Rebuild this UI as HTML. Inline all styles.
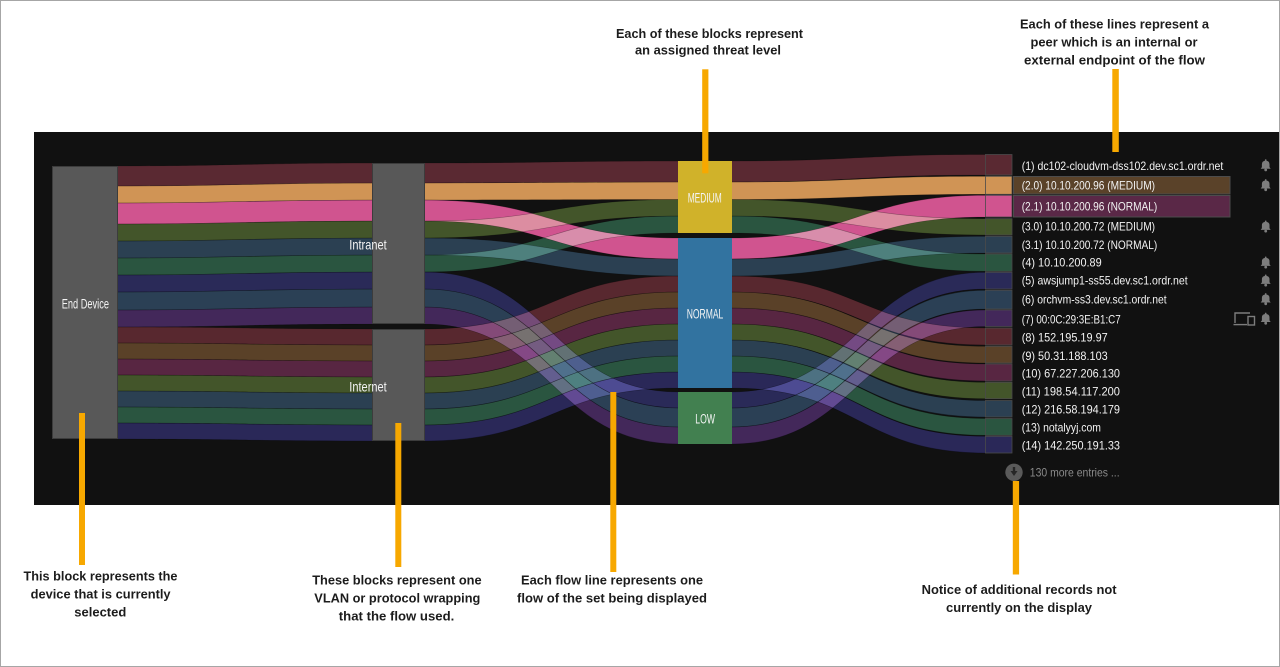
<!DOCTYPE html>
<html><head><meta charset="utf-8"><style>
html,body{margin:0;padding:0;background:#fff;}
svg{display:block;}
.ann{font-family:"Liberation Sans",sans-serif;font-weight:bold;font-size:13px;fill:#1c1c1c;}
.nl{font-family:"Liberation Sans",sans-serif;fill:#f4f4f4;}
.row{font-family:"Liberation Sans",sans-serif;font-size:12px;fill:#f2f2f2;}
.b use{mix-blend-mode:screen;}
</style></head><body>
<svg width="1280" height="667" viewBox="0 0 1280 667" xmlns="http://www.w3.org/2000/svg" xmlns:xlink="http://www.w3.org/1999/xlink">
<defs>
<!-- S1 -->
<path id="a1" d="M117 166C245 166 245 163 373 163L373 183C245 183 245 186 117 186Z"/>
<path id="a2" d="M117 186C245 186 245 183 373 183L373 200C245 200 245 203 117 203Z"/>
<path id="a3" d="M117 203C245 203 245 200 373 200L373 221C245 221 245 224 117 224Z"/>
<path id="a4" d="M117 224C245 224 245 221 373 221L373 238C245 238 245 241 117 241Z"/>
<path id="a5" d="M117 241C245 241 245 238 373 238L373 255C245 255 245 258 117 258Z"/>
<path id="a6" d="M117 258C245 258 245 255 373 255L373 272C245 272 245 275 117 275Z"/>
<path id="a7" d="M117 275C245 275 245 272 373 272L373 289C245 289 245 292 117 292Z"/>
<path id="a8" d="M117 292C245 292 245 289 373 289L373 307C245 307 245 310 117 310Z"/>
<path id="a9" d="M117 310C245 310 245 307 373 307L373 324C245 324 245 327 117 327Z"/>
<path id="a10" d="M117 327C245 327 245 329 373 329L373 345C245 345 245 343 117 343Z"/>
<path id="a11" d="M117 343C245 343 245 345 373 345L373 361C245 361 245 359 117 359Z"/>
<path id="a12" d="M117 359C245 359 245 361 373 361L373 377C245 377 245 375 117 375Z"/>
<path id="a13" d="M117 375C245 375 245 377 373 377L373 393C245 393 245 391 117 391Z"/>
<path id="a14" d="M117 391C245 391 245 393 373 393L373 409C245 409 245 407 117 407Z"/>
<path id="a15" d="M117 407C245 407 245 409 373 409L373 425C245 425 245 423 117 423Z"/>
<path id="a16" d="M117 423C245 423 245 425 373 425L373 441C245 441 245 439 117 439Z"/>
<!-- S2 -->
<path id="c1" d="M424 163C551.5 163 551.5 161 679 161L679 182C551.5 182 551.5 183 424 183Z"/>
<path id="c2" d="M424 183C551.5 183 551.5 182 679 182L679 199.5C551.5 199.5 551.5 200 424 200Z"/>
<path id="c3" d="M424 200C551.5 200 551.5 238 679 238L679 259C551.5 259 551.5 221 424 221Z"/>
<path id="c4" d="M424 221C551.5 221 551.5 199.5 679 199.5L679 216C551.5 216 551.5 238 424 238Z"/>
<path id="c5" d="M424 238C551.5 238 551.5 259 679 259L679 276C551.5 276 551.5 255 424 255Z"/>
<path id="c6" d="M424 255C551.5 255 551.5 216 679 216L679 233C551.5 233 551.5 272 424 272Z"/>
<path id="c7" d="M424 272C551.5 272 551.5 392 679 392L679 408C551.5 408 551.5 289 424 289Z"/>
<path id="c8" d="M424 289C551.5 289 551.5 408 679 408L679 427C551.5 427 551.5 307 424 307Z"/>
<path id="c9" d="M424 307C551.5 307 551.5 427 679 427L679 444C551.5 444 551.5 324 424 324Z"/>
<path id="c10" d="M424 329C551.5 329 551.5 276 679 276L679 292C551.5 292 551.5 345 424 345Z"/>
<path id="c11" d="M424 345C551.5 345 551.5 292 679 292L679 308C551.5 308 551.5 361 424 361Z"/>
<path id="c12" d="M424 361C551.5 361 551.5 308 679 308L679 324C551.5 324 551.5 377 424 377Z"/>
<path id="c13" d="M424 377C551.5 377 551.5 324 679 324L679 340C551.5 340 551.5 393 424 393Z"/>
<path id="c14" d="M424 393C551.5 393 551.5 340 679 340L679 356C551.5 356 551.5 409 424 409Z"/>
<path id="c15" d="M424 409C551.5 409 551.5 356 679 356L679 372C551.5 372 551.5 425 424 425Z"/>
<path id="c16" d="M424 425C551.5 425 551.5 372 679 372L679 388C551.5 388 551.5 441 424 441Z"/>
<!-- S3 -->
<path id="e1" d="M731 161C858.5 161 858.5 154.5 986 154.5L986 175C858.5 175 858.5 182 731 182Z"/>
<path id="e2" d="M731 182C858.5 182 858.5 176.3 986 176.3L986 194.3C858.5 194.3 858.5 199.5 731 199.5Z"/>
<path id="e4" d="M731 199.5C858.5 199.5 858.5 218.7 986 218.7L986 235C858.5 235 858.5 216 731 216Z"/>
<path id="e6" d="M731 216C858.5 216 858.5 254 986 254L986 271.3C858.5 271.3 858.5 233 731 233Z"/>
<path id="e3" d="M731 238C858.5 238 858.5 195.3 986 195.3L986 217C858.5 217 858.5 259 731 259Z"/>
<path id="e5" d="M731 259C858.5 259 858.5 236.3 986 236.3L986 253C858.5 253 858.5 276 731 276Z"/>
<path id="e10" d="M731 276C858.5 276 858.5 328 986 328L986 345C858.5 345 858.5 292 731 292Z"/>
<path id="e11" d="M731 292C858.5 292 858.5 346.3 986 346.3L986 363C858.5 363 858.5 308 731 308Z"/>
<path id="e12" d="M731 308C858.5 308 858.5 364 986 364L986 381C858.5 381 858.5 324 731 324Z"/>
<path id="e13" d="M731 324C858.5 324 858.5 382.3 986 382.3L986 398.7C858.5 398.7 858.5 340 731 340Z"/>
<path id="e14" d="M731 340C858.5 340 858.5 400.5 986 400.5L986 417C858.5 417 858.5 356 731 356Z"/>
<path id="e15" d="M731 356C858.5 356 858.5 418.5 986 418.5L986 435.3C858.5 435.3 858.5 372 731 372Z"/>
<path id="e16" d="M731 372C858.5 372 858.5 436.3 986 436.3L986 453C858.5 453 858.5 388 731 388Z"/>
<path id="e7" d="M731 392C858.5 392 858.5 272.3 986 272.3L986 289C858.5 289 858.5 408 731 408Z"/>
<path id="e8" d="M731 408C858.5 408 858.5 290.3 986 290.3L986 309C858.5 309 858.5 427 731 427Z"/>
<path id="e9" d="M731 427C858.5 427 858.5 310 986 310L986 326.5C858.5 326.5 858.5 444 731 444Z"/>
<g id="bell" fill="#7d7d7d">
<path d="M-5 3.2 L-3.8 1.6 L-3.8 -1.4 Q-3.8 -4.6 0 -4.9 Q3.8 -4.6 3.8 -1.4 L3.8 1.6 L5 3.2 Z"/>
<circle cx="0" cy="4.4" r="1.4"/>
<circle cx="0" cy="-5.3" r="0.9"/>
</g>
</defs>

<rect x="0" y="0" width="1280" height="667" fill="#fff"/>
<!-- dark panel -->
<rect x="34" y="132" width="1246" height="373" fill="#111111"/>

<!-- bands (screen blended) -->
<g class="b" style="isolation:isolate">
<use href="#a1" fill="#5a2932"/><use href="#a2" fill="#d09455"/><use href="#a3" fill="#d0548f"/><use href="#a4" fill="#43552a"/>
<use href="#a5" fill="#2b4052"/><use href="#a6" fill="#2a5540"/><use href="#a7" fill="#2a2a58"/><use href="#a8" fill="#2b4055"/>
<use href="#a9" fill="#43285a"/><use href="#a10" fill="#58282f"/><use href="#a11" fill="#5a4128"/><use href="#a12" fill="#582642"/>
<use href="#a13" fill="#43552a"/><use href="#a14" fill="#2b4052"/><use href="#a15" fill="#2a5540"/><use href="#a16" fill="#2a2858"/>

<use href="#c1" fill="#5a2932"/><use href="#c2" fill="#d09455"/><use href="#c3" fill="#d0548f"/><use href="#c4" fill="#43552a"/>
<use href="#c5" fill="#2b4052"/><use href="#c6" fill="#2a5540"/><use href="#c7" fill="#2a2a58"/><use href="#c8" fill="#2b4055"/>
<use href="#c9" fill="#43285a"/><use href="#c10" fill="#58282f"/><use href="#c11" fill="#5a4128"/><use href="#c12" fill="#582642"/>
<use href="#c13" fill="#43552a"/><use href="#c14" fill="#2b4052"/><use href="#c15" fill="#2a5540"/><use href="#c16" fill="#2a2858"/>

<use href="#e1" fill="#5a2932"/><use href="#e2" fill="#d09455"/><use href="#e3" fill="#d0548f"/><use href="#e4" fill="#43552a"/>
<use href="#e5" fill="#2b4052"/><use href="#e6" fill="#2a5540"/><use href="#e7" fill="#2a2a58"/><use href="#e8" fill="#2b4055"/>
<use href="#e9" fill="#43285a"/><use href="#e10" fill="#58282f"/><use href="#e11" fill="#5a4128"/><use href="#e12" fill="#582642"/>
<use href="#e13" fill="#43552a"/><use href="#e14" fill="#2b4052"/><use href="#e15" fill="#2a5540"/><use href="#e16" fill="#2a2858"/>
</g>
<!-- thin dark band edges -->
<g fill="none" stroke="#000" stroke-opacity="0.35" stroke-width="0.6">
<use href="#a1"/><use href="#a2"/><use href="#a3"/><use href="#a4"/><use href="#a5"/><use href="#a6"/><use href="#a7"/><use href="#a8"/>
<use href="#a9"/><use href="#a10"/><use href="#a11"/><use href="#a12"/><use href="#a13"/><use href="#a14"/><use href="#a15"/><use href="#a16"/>
<use href="#c1"/><use href="#c2"/><use href="#c3"/><use href="#c4"/><use href="#c5"/><use href="#c6"/><use href="#c7"/><use href="#c8"/>
<use href="#c9"/><use href="#c10"/><use href="#c11"/><use href="#c12"/><use href="#c13"/><use href="#c14"/><use href="#c15"/><use href="#c16"/>
<use href="#e1"/><use href="#e2"/><use href="#e3"/><use href="#e4"/><use href="#e5"/><use href="#e6"/><use href="#e7"/><use href="#e8"/>
<use href="#e9"/><use href="#e10"/><use href="#e11"/><use href="#e12"/><use href="#e13"/><use href="#e14"/><use href="#e15"/><use href="#e16"/>
</g>

<!-- nodes -->
<rect x="52.5" y="166.5" width="65" height="272" fill="#585858" stroke="#3c3c3c" stroke-width="1"/>
<rect x="372.5" y="163.5" width="52" height="160" fill="#585858" stroke="#3c3c3c" stroke-width="1"/>
<rect x="372.5" y="329.5" width="52" height="111" fill="#585858" stroke="#3c3c3c" stroke-width="1"/>
<rect x="678" y="161" width="54" height="72" fill="#d0b22a"/>
<rect x="678" y="238" width="54" height="150" fill="#3273a0"/>
<rect x="678" y="392" width="54" height="52" fill="#428050"/>

<text class="nl" x="61.7" y="308.5" font-size="14" textLength="47.3" lengthAdjust="spacingAndGlyphs">End Device</text>
<text class="nl" x="349.3" y="249.3" font-size="14" textLength="37.4" lengthAdjust="spacingAndGlyphs">Intranet</text>
<text class="nl" x="349.3" y="391.7" font-size="14" textLength="37.4" lengthAdjust="spacingAndGlyphs">Internet</text>
<text class="nl" x="687.7" y="202.3" font-size="13.5" textLength="34" lengthAdjust="spacingAndGlyphs">MEDIUM</text>
<text class="nl" x="686.7" y="318.3" font-size="13.5" textLength="36.6" lengthAdjust="spacingAndGlyphs">NORMAL</text>
<text class="nl" x="695.3" y="423.3" font-size="13.5" textLength="19.7" lengthAdjust="spacingAndGlyphs">LOW</text>

<!-- peer nodes -->
<g stroke="#4a4a4a" stroke-width="0.8">
<rect x="985.4" y="154.5" width="26.6" height="20.5" fill="#5a2932"/>
<rect x="985.4" y="176.3" width="26.6" height="18" fill="#d09455"/>
<rect x="985.4" y="195.3" width="26.6" height="21.7" fill="#d0548f"/>
<rect x="985.4" y="218.7" width="26.6" height="16.3" fill="#43552a"/>
<rect x="985.4" y="236.3" width="26.6" height="16.7" fill="#2b4052"/>
<rect x="985.4" y="254" width="26.6" height="17.3" fill="#2a5540"/>
<rect x="985.4" y="272.3" width="26.6" height="16.7" fill="#2a2a58"/>
<rect x="985.4" y="290.3" width="26.6" height="18.7" fill="#2b4055"/>
<rect x="985.4" y="310" width="26.6" height="16.5" fill="#43285a"/>
<rect x="985.4" y="328" width="26.6" height="17" fill="#58282f"/>
<rect x="985.4" y="346.3" width="26.6" height="16.7" fill="#5a4128"/>
<rect x="985.4" y="364" width="26.6" height="17" fill="#582642"/>
<rect x="985.4" y="382.3" width="26.6" height="16.4" fill="#43552a"/>
<rect x="985.4" y="400.5" width="26.6" height="16.5" fill="#2b4052"/>
<rect x="985.4" y="418.5" width="26.6" height="16.8" fill="#2a5540"/>
<rect x="985.4" y="436.3" width="26.6" height="16.7" fill="#2a2858"/>
</g>

<!-- highlighted rows -->
<rect x="1013.5" y="176.5" width="216.5" height="17.5" fill="#5a4229" stroke="#4c4c4c" stroke-width="1"/>
<rect x="1013.5" y="195.5" width="216.5" height="21.5" fill="#5a2847" stroke="#4c4c4c" stroke-width="1"/>

<!-- row text -->
<text class="row" x="1021.7" y="170" textLength="201.6" lengthAdjust="spacingAndGlyphs">(1) dc102-cloudvm-dss102.dev.sc1.ordr.net</text>
<text class="row" x="1021.7" y="189.7" textLength="133.3" lengthAdjust="spacingAndGlyphs">(2.0) 10.10.200.96 (MEDIUM)</text>
<text class="row" x="1021.7" y="210.7" textLength="135.6" lengthAdjust="spacingAndGlyphs">(2.1) 10.10.200.96 (NORMAL)</text>
<text class="row" x="1021.7" y="230.7" textLength="133.3" lengthAdjust="spacingAndGlyphs">(3.0) 10.10.200.72 (MEDIUM)</text>
<text class="row" x="1021.7" y="249" textLength="135.6" lengthAdjust="spacingAndGlyphs">(3.1) 10.10.200.72 (NORMAL)</text>
<text class="row" x="1021.7" y="266.7" textLength="80" lengthAdjust="spacingAndGlyphs">(4) 10.10.200.89</text>
<text class="row" x="1021.7" y="284.7" textLength="166" lengthAdjust="spacingAndGlyphs">(5) awsjump1-ss55.dev.sc1.ordr.net</text>
<text class="row" x="1021.7" y="303.3" textLength="145" lengthAdjust="spacingAndGlyphs">(6) orchvm-ss3.dev.sc1.ordr.net</text>
<text class="row" x="1021.7" y="323.3" textLength="99" lengthAdjust="spacingAndGlyphs">(7) 00:0C:29:3E:B1:C7</text>
<text class="row" x="1021.7" y="341.7" textLength="86" lengthAdjust="spacingAndGlyphs">(8) 152.195.19.97</text>
<text class="row" x="1021.7" y="360" textLength="86" lengthAdjust="spacingAndGlyphs">(9) 50.31.188.103</text>
<text class="row" x="1021.7" y="377.3" textLength="98.3" lengthAdjust="spacingAndGlyphs">(10) 67.227.206.130</text>
<text class="row" x="1021.7" y="395.3" textLength="98.3" lengthAdjust="spacingAndGlyphs">(11) 198.54.117.200</text>
<text class="row" x="1021.7" y="413.3" textLength="98.3" lengthAdjust="spacingAndGlyphs">(12) 216.58.194.179</text>
<text class="row" x="1021.7" y="431.3" textLength="79.3" lengthAdjust="spacingAndGlyphs">(13) notalyyj.com</text>
<text class="row" x="1021.7" y="449.3" textLength="98.3" lengthAdjust="spacingAndGlyphs">(14) 142.250.191.33</text>

<!-- bells -->
<use href="#bell" x="1265.7" y="165.5"/>
<use href="#bell" x="1265.7" y="185.3"/>
<use href="#bell" x="1265.7" y="226.7"/>
<use href="#bell" x="1265.7" y="262.7"/>
<use href="#bell" x="1265.7" y="280.7"/>
<use href="#bell" x="1265.7" y="299.3"/>
<use href="#bell" x="1265.7" y="318.8"/>
<!-- device icon -->
<g fill="none" stroke="#7d7d7d" stroke-width="1.4">
<path d="M1235 323 L1235 313 L1250 313"/>
<path d="M1233.5 324.6 L1247 324.6"/>
<rect x="1248" y="316.5" width="6.5" height="8.5"/>
</g>

<!-- more entries -->
<circle cx="1014" cy="472.3" r="8.7" fill="#5a5a5a"/>
<rect x="1012.8" y="467" width="2.4" height="4.5" fill="#262626"/>
<path d="M1010.5 471 L1017.5 471 L1014 476 Z" fill="#262626"/>
<text x="1029.8" y="476.3" font-family="Liberation Sans, sans-serif" font-size="12" fill="#8a8a8a" textLength="89.8" lengthAdjust="spacingAndGlyphs">130 more entries ...</text>

<!-- orange callout lines -->
<g fill="#f7a800">
<rect x="79" y="413" width="6" height="152"/>
<rect x="395.3" y="423" width="6" height="144"/>
<rect x="610.3" y="392" width="6" height="180"/>
<rect x="1012.8" y="481" width="6.3" height="93.5"/>
<rect x="702.2" y="69.3" width="6.2" height="104"/>
<rect x="1112.3" y="69" width="6.5" height="83"/>
</g>

<!-- annotations -->
<text class="ann" x="616" y="38" textLength="187" lengthAdjust="spacingAndGlyphs">Each of these blocks represent</text>
<text class="ann" x="635" y="54.5" textLength="146" lengthAdjust="spacingAndGlyphs">an assigned threat level</text>

<text class="ann" x="1020" y="28.5" textLength="189" lengthAdjust="spacingAndGlyphs">Each of these lines represent a</text>
<text class="ann" x="1030.5" y="46.5" textLength="167" lengthAdjust="spacingAndGlyphs">peer which is an internal or</text>
<text class="ann" x="1024" y="64.5" textLength="181" lengthAdjust="spacingAndGlyphs">external endpoint of the flow</text>

<text class="ann" x="23.5" y="580.5" textLength="154" lengthAdjust="spacingAndGlyphs">This block represents the</text>
<text class="ann" x="30.6" y="598.5" textLength="140" lengthAdjust="spacingAndGlyphs">device that is currently</text>
<text class="ann" x="74.3" y="616.3" textLength="52" lengthAdjust="spacingAndGlyphs">selected</text>

<text class="ann" x="312.2" y="584.5" textLength="169.4" lengthAdjust="spacingAndGlyphs">These blocks represent one</text>
<text class="ann" x="314.3" y="602.5" textLength="166" lengthAdjust="spacingAndGlyphs">VLAN or protocol wrapping</text>
<text class="ann" x="338.8" y="620.5" textLength="115.5" lengthAdjust="spacingAndGlyphs">that the flow used.</text>

<text class="ann" x="521" y="584.5" textLength="182" lengthAdjust="spacingAndGlyphs">Each flow line represents one</text>
<text class="ann" x="517" y="602.5" textLength="190" lengthAdjust="spacingAndGlyphs">flow of the set being displayed</text>

<text class="ann" x="921.6" y="594" textLength="195" lengthAdjust="spacingAndGlyphs">Notice of additional records not</text>
<text class="ann" x="946" y="612" textLength="146" lengthAdjust="spacingAndGlyphs">currently on the display</text>

<!-- outer border -->
<rect x="0.5" y="0.5" width="1279" height="666" fill="none" stroke="#a6a6a6" stroke-width="1"/>
</svg>
</body></html>
